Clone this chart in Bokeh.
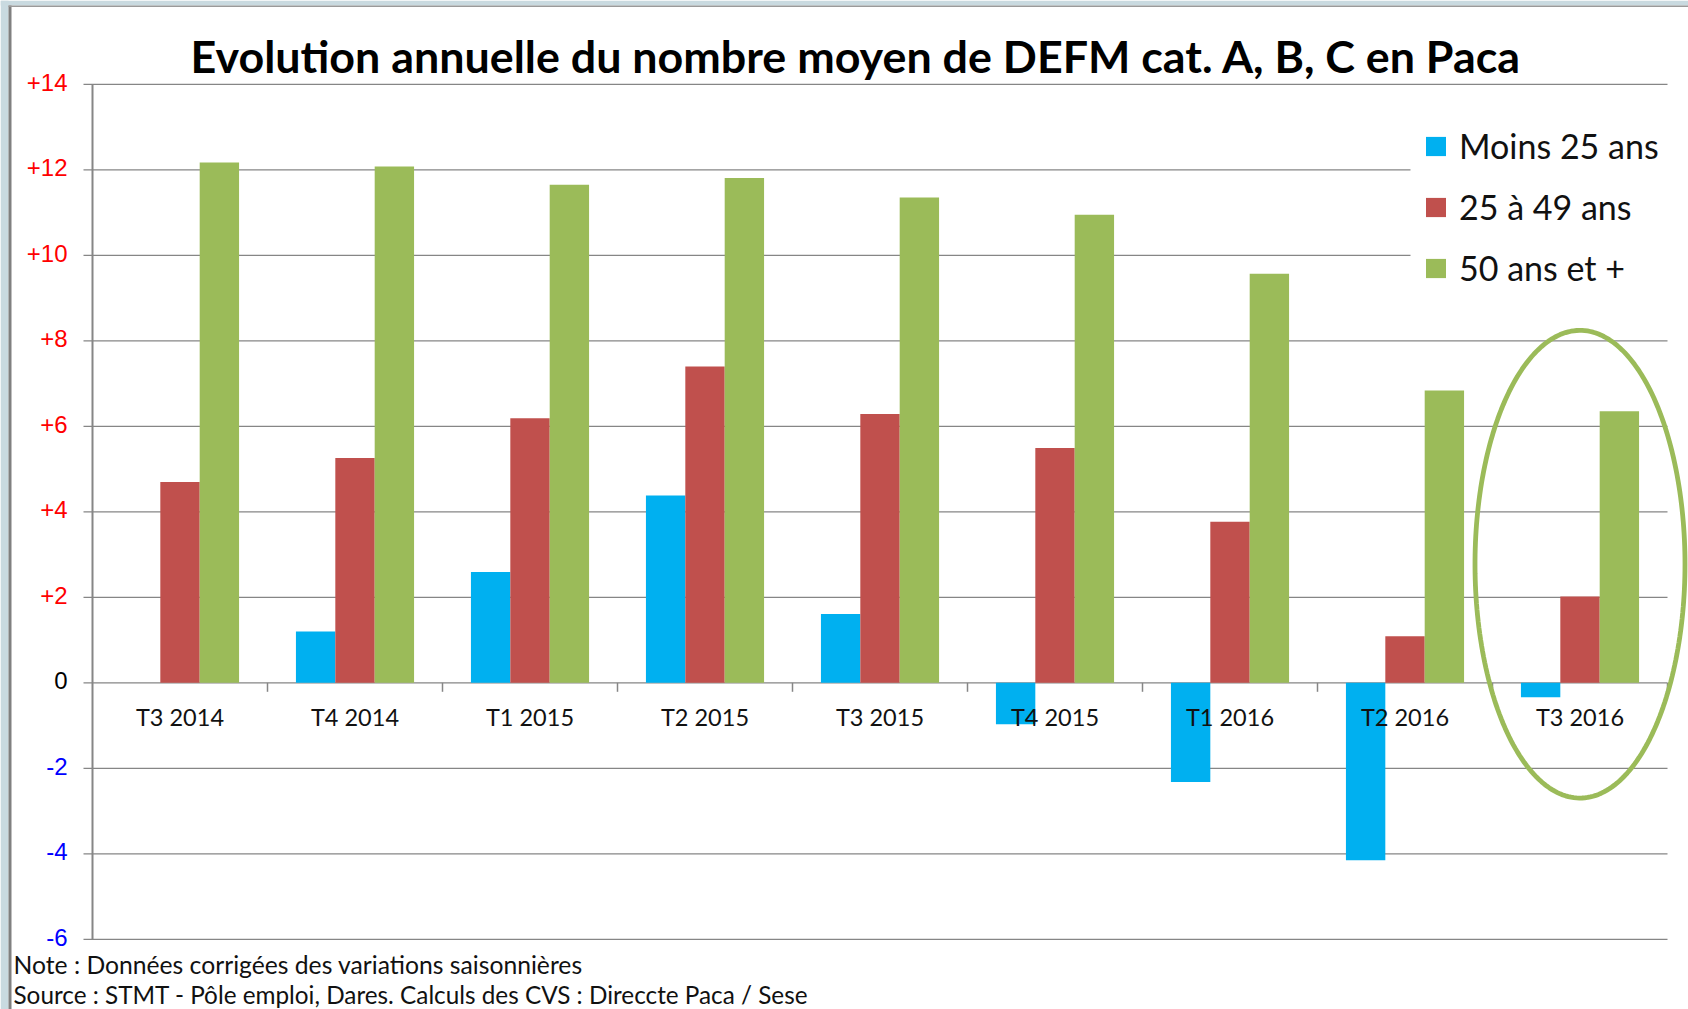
import numpy as np
from bokeh.plotting import figure
from bokeh.models import (ColumnDataSource, Range1d, LabelSet, Label,
                          Legend, LegendItem, PolyAnnotation, BoxAnnotation)
from bokeh.transform import dodge
from bokeh.core.properties import value
from bokeh.embed import file_html
from bokeh.resources import INLINE

# ---------------- data ----------------
categories = ["T3 2014", "T4 2014", "T1 2015", "T2 2015", "T3 2015",
              "T4 2015", "T1 2016", "T2 2016", "T3 2016"]
moins_25 = [0.0, 1.20, 2.59, 4.38, 1.61, -0.97, -2.32, -4.15, -0.34]
de_25_a_49 = [4.70, 5.26, 6.19, 7.40, 6.29, 5.49, 3.77, 1.09, 2.02]
plus_50 = [12.17, 12.08, 11.65, 11.81, 11.35, 10.95, 9.57, 6.84, 6.35]
series_names = ["Moins 25 ans", "25 à 49 ans", "50 ans et +"]
series_colors = ["#00B0F0", "#C0504D", "#9BBB59"]
y_ticks = [-6, -4, -2, 0, 2, 4, 6, 8, 10, 12, 14]
title_text = "Evolution annuelle du nombre moyen de DEFM cat. A, B, C en Paca"
note_text = "Note : Données corrigées des variations saisonnières"
source_text = "Source : STMT - Pôle emploi, Dares. Calculs des CVS : Direccte Paca / Sese"
highlight_category = "T3 2016"

# ---------------- geometry / style ----------------
W, H = 1688, 1009
GRID = "#868686"
FONT = "Lato"
CAT_PX = 175.0          # width of one category slot in pixels
X0_PX = 92.0            # pixel position of the value axis
PX_PER_UNIT = 42.75     # pixels per y unit
ZERO_PX = 682.3         # pixel row of the 0 line (from top)
N = len(categories)

x_range = Range1d(-X0_PX / CAT_PX, (W - X0_PX) / CAT_PX)
y_range = Range1d(-(H - ZERO_PX) / PX_PER_UNIT, ZERO_PX / PX_PER_UNIT)

p = figure(width=W, height=H, x_range=x_range, y_range=y_range,
           output_backend="svg", toolbar_location=None,
           min_border_left=0, min_border_right=0, min_border_top=0, min_border_bottom=0)
p.axis.visible = False
p.grid.visible = False
p.outline_line_color = None
p.background_fill_color = "white"
p.border_fill_color = "white"

positions = [i + 0.5 for i in range(N)]
source = ColumnDataSource(dict(cat=categories, pos=positions, s0=moins_25, s1=de_25_a_49, s2=plus_50,
                               zero=[0] * N, boundary=[i + 1 for i in range(N)]))

# slide frame decoration (screenshot border)
p.add_layout(BoxAnnotation(bottom=H - 5, bottom_units="screen", fill_color="#C9DAE0",
                           fill_alpha=1, line_color=None))
p.add_layout(BoxAnnotation(right=8, right_units="screen", fill_color="#C9DAE0",
                           fill_alpha=1, line_color=None))
p.add_layout(BoxAnnotation(left=8, left_units="screen", right=11, right_units="screen",
                           top=H - 5, top_units="screen", fill_color="#808080",
                           fill_alpha=1, line_color=None))
p.add_layout(BoxAnnotation(left=8, left_units="screen", top=H - 5, top_units="screen",
                           bottom=H - 6.5, bottom_units="screen", fill_color="#9A9A9A",
                           fill_alpha=1, line_color=None))

# gridlines with outward tick marks, value axis line
p.segment(x0=-9 / CAT_PX, x1=N, y0=y_ticks, y1=y_ticks, line_color=GRID, line_width=1.3)
p.segment(x0=0, x1=0, y0=min(y_ticks), y1=max(y_ticks), line_color=GRID, line_width=2)

# bars
bar_w = 0.225
offsets = [-bar_w, 0.0, bar_w]
fields = ["s0", "s1", "s2"]
renderers = []
for f, off, col in zip(fields, offsets, series_colors):
    r = p.vbar(x=dodge("pos", off), top=f, bottom=0, width=bar_w,
               source=source, fill_color=col, line_color=None)
    renderers.append(r)

# category-boundary tick marks under the 0 line
p.segment(x0="boundary", x1="boundary", y0=0, y1=-9 / PX_PER_UNIT, source=source,
          line_color=GRID, line_width=1.5)

# category labels
p.add_layout(LabelSet(x="pos", y="zero", text="cat", source=source, y_offset=-43,
                      text_align="center", text_baseline="alphabetic",
                      text_font=value(FONT), text_font_size="23.5px", text_color="#111111"))

# y tick labels, coloured by sign
ylab = ColumnDataSource(dict(
    y=y_ticks,
    text=[("+%d" % t) if t > 0 else ("%d" % t) for t in y_ticks],
    color=["#FF0000" if t > 0 else ("#000000" if t == 0 else "#0000FF") for t in y_ticks],
))
p.add_layout(LabelSet(x=X0_PX - 25, y="y", x_units="screen", y_offset=2, text="text", source=ylab,
                      text_align="right", text_baseline="middle", text_color="color",
                      text_font=value("Liberation Sans"), text_font_size="24px"))

# white area behind the legend (hides gridlines there)
p.add_layout(BoxAnnotation(left=1410, left_units="screen", right=X0_PX + N * CAT_PX + 2,
                           right_units="screen",
                           top=H - 115, top_units="screen", bottom=H - 300, bottom_units="screen",
                           fill_color="white", fill_alpha=1.0, line_color=None))

# legend
legend = Legend(items=[LegendItem(label=n, renderers=[r]) for n, r in zip(series_names, renderers)],
                location=(1423, 721), orientation="vertical",
                glyph_width=25, glyph_height=24, label_standoff=11, spacing=20, padding=17,
                label_text_font=FONT, label_text_font_size="34px", label_text_color="#111111",
                background_fill_alpha=0.0, border_line_color=None)
p.add_layout(legend, "center")

# highlight ellipse around the last quarter
idx = categories.index(highlight_category) + 0.5
t = np.linspace(0, 2 * np.pi, 240)
ell_cy, ell_rx, ell_ry = 2.774, 0.6, 5.47
p.add_layout(PolyAnnotation(xs=list(idx + ell_rx * np.cos(t)), ys=list(ell_cy + ell_ry * np.sin(t)),
                            fill_alpha=0, line_color="#9BBB59", line_alpha=1.0, line_width=4.8))

# title
p.add_layout(Label(x=190, y=H - 55, x_units="screen", y_units="screen", text=title_text,
                   text_align="left", text_baseline="alphabetic",
                   text_font=FONT, text_font_style="bold", text_font_size="44.8px",
                   text_color="#000000"))

# notes
p.add_layout(Label(x=13, y=H - 964, x_units="screen", y_units="screen", text=note_text,
                   text_baseline="alphabetic", text_font=FONT, text_font_size="24.7px",
                   text_color="#111111"))
p.add_layout(Label(x=13, y=H - 994, x_units="screen", y_units="screen", text=source_text,
                   text_baseline="alphabetic", text_font=FONT, text_font_size="24.3px",
                   text_color="#111111"))

open("out.html", "w").write(file_html(p, INLINE))
